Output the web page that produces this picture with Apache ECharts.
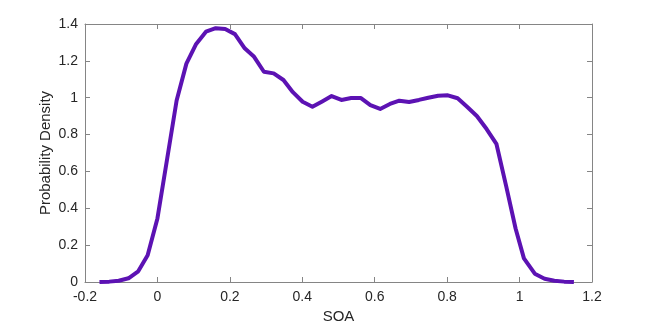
<!DOCTYPE html>
<html>
<head>
<meta charset="utf-8">
<script src="https://cdn.jsdelivr.net/npm/echarts@6/dist/echarts.min.js"></script>
<style>
  html, body { margin: 0; padding: 0; background: #fff; }
  #chart { width: 654px; height: 327px; }
</style>
</head>
<body>
<div id="chart"></div>
<script>
// SOA sample positions and density values
const soa = [
  -0.160, -0.133, -0.107, -0.080, -0.053, -0.027, 0.000, 0.027, 0.053, 0.080,
  0.107, 0.134, 0.161, 0.187, 0.214, 0.241, 0.267, 0.294, 0.321, 0.348,
  0.374, 0.401, 0.428, 0.455, 0.481, 0.508, 0.535, 0.562, 0.588, 0.615,
  0.642, 0.668, 0.695, 0.722, 0.748, 0.775, 0.802, 0.829, 0.855, 0.882,
  0.909, 0.936, 0.963, 0.989, 1.012, 1.042, 1.069, 1.096, 1.123, 1.150
];
const density = [
  0.000, 0.002, 0.007, 0.020, 0.058, 0.145, 0.345, 0.670, 0.985, 1.185,
  1.292, 1.358, 1.377, 1.373, 1.345, 1.268, 1.222, 1.141, 1.132, 1.096,
  1.030, 0.978, 0.951, 0.980, 1.009, 0.988, 0.998, 0.998, 0.960, 0.939,
  0.966, 0.984, 0.977, 0.988, 1.000, 1.011, 1.013, 0.997, 0.951, 0.901,
  0.830, 0.750, 0.520, 0.290, 0.128, 0.045, 0.018, 0.007, 0.002, 0.000
];

const lineColor = "#5c12b3";
const axisColor = "#858585";
const textColor = "#262626";
const font = "Liberation Sans, Arial, Helvetica, sans-serif";

const chart = echarts.init(document.getElementById("chart"));

const baseAxis = {
  type: "value",
  axisLine: { show: true, onZero: false, lineStyle: { color: axisColor, width: 1 } },
  axisTick: { show: true, inside: true, length: 5, lineStyle: { color: axisColor } },
  splitLine: { show: false },
};

chart.setOption({
  animation: false,
  backgroundColor: "#fff",
  grid: {
    left: 85,
    top: 24,
    right: 62,
    bottom: 45,
    containLabel: false,
    outerBoundsMode: "none",
  },
  xAxis: [
    {
      ...baseAxis,
      position: "bottom",
      min: -0.2,
      max: 1.2,
      interval: 0.2,
      name: "SOA",
      nameLocation: "middle",
      nameGap: 26,
      nameTextStyle: { color: textColor, fontSize: 15, fontFamily: font },
      axisLabel: {
        color: textColor,
        fontSize: 14,
        fontFamily: font,
        margin: 8,
        formatter: (v) => String(Math.round(v * 10) / 10),
      },
    },
    {
      ...baseAxis,
      position: "top",
      min: -0.2,
      max: 1.2,
      interval: 0.2,
      axisLabel: { show: false },
    },
  ],
  yAxis: [
    {
      ...baseAxis,
      position: "left",
      min: 0,
      max: 1.4,
      interval: 0.2,
      name: "Probability Density",
      nameLocation: "middle",
      nameGap: 32,
      nameMoveOverlap: false,
      nameTextStyle: { color: textColor, fontSize: 15, fontFamily: font },
      axisLabel: {
        color: textColor,
        fontSize: 14,
        fontFamily: font,
        margin: 7,
        formatter: (v) => String(Math.round(v * 10) / 10),
      },
    },
    {
      ...baseAxis,
      position: "right",
      min: 0,
      max: 1.4,
      interval: 0.2,
      axisLabel: { show: false },
    },
  ],
  series: [
    {
      type: "line",
      xAxisIndex: 0,
      yAxisIndex: 0,
      data: soa.map((x, i) => [x, density[i]]),
      showSymbol: false,
      smooth: false,
      lineStyle: { color: lineColor, width: 4, join: "round", cap: "butt" },
    },
  ],
});
</script>
</body>
</html>
